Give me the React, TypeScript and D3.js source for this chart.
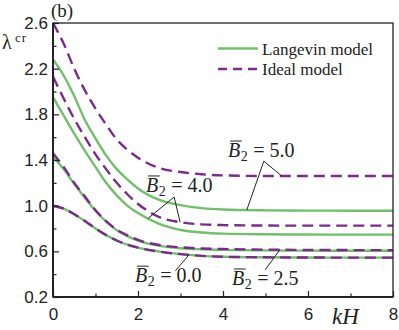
import React, { useEffect, useRef } from "react";
import * as d3 from "d3";

// kH sample points shared by every curve
const KH = [0, 0.25, 0.5, 0.75, 1, 1.25, 1.5, 1.75, 2, 2.5, 3, 3.5, 4, 5, 6, 7, 8];

// Langevin model (solid green)
const LANGEVIN_00 = [1.0, 0.975, 0.925, 0.865, 0.8, 0.742, 0.695, 0.658, 0.632, 0.598, 0.576, 0.56, 0.553, 0.548, 0.546, 0.545, 0.545];
const LANGEVIN_25 = [1.43, 1.32, 1.19, 1.07, 0.955, 0.86, 0.785, 0.733, 0.694, 0.648, 0.627, 0.618, 0.613, 0.608, 0.606, 0.605, 0.605];
const LANGEVIN_40 = [1.95, 1.79, 1.63, 1.48, 1.34, 1.2, 1.09, 1.0, 0.935, 0.84, 0.787, 0.765, 0.755, 0.749, 0.747, 0.746, 0.746];
const LANGEVIN_50 = [2.28, 2.14, 1.96, 1.75, 1.59, 1.44, 1.32, 1.23, 1.15, 1.05, 1.005, 0.978, 0.966, 0.959, 0.957, 0.956, 0.956];

// Ideal model (dashed purple)
const IDEAL_00 = [1.0, 0.975, 0.925, 0.865, 0.8, 0.742, 0.695, 0.658, 0.632, 0.598, 0.576, 0.56, 0.553, 0.548, 0.546, 0.545, 0.545];
const IDEAL_25 = [1.46, 1.34, 1.2, 1.08, 0.96, 0.865, 0.79, 0.74, 0.7, 0.655, 0.635, 0.625, 0.62, 0.615, 0.612, 0.611, 0.61];
const IDEAL_40 = [2.13, 1.94, 1.76, 1.6, 1.45, 1.32, 1.2, 1.1, 1.015, 0.9, 0.855, 0.836, 0.83, 0.826, 0.825, 0.825, 0.825];
const IDEAL_50 = [2.6, 2.42, 2.2, 2.01, 1.85, 1.71, 1.58, 1.49, 1.42, 1.33, 1.295, 1.275, 1.265, 1.26, 1.26, 1.26, 1.26];

const Y_TICKS = [0.2, 0.6, 1.0, 1.4, 1.8, 2.2, 2.6];
const Y_MINOR = [0.4, 0.8, 1.2, 1.6, 2.0, 2.4];
const X_TICKS = [0, 2, 4, 6, 8];
const X_MINOR = [1, 3, 5, 7];

const GREEN = "#70c06b";
const PURPLE = "#7b2a8d";
const SANS = "'Liberation Sans', Arial, sans-serif";
const SERIF = "'Liberation Serif', 'Times New Roman', serif";

const W = 399;
const H = 330;

const App = () => {
    const ref = useRef<SVGSVGElement>(null);

    useEffect(() => {
        const margin = { top: 23, right: 6, bottom: 33, left: 53 };
        const svg = d3.select(ref.current);
        svg.selectAll("*").remove();

        const x = d3.scaleLinear().domain([0, 8]).range([margin.left, W - margin.right]);
        const y = d3.scaleLinear().domain([0.2, 2.6]).range([H - margin.bottom, margin.top]);

        svg.append("clipPath")
            .attr("id", "plot-clip")
            .append("rect")
            .attr("x", margin.left)
            .attr("y", margin.top)
            .attr("width", W - margin.left - margin.right)
            .attr("height", H - margin.top - margin.bottom);

        const line = d3
            .line<number>()
            .x((_, i) => x(KH[i]))
            .y((d) => y(d))
            .curve(d3.curveMonotoneX);

        const plot = svg.append("g").attr("clip-path", "url(#plot-clip)");

        [LANGEVIN_00, LANGEVIN_25, LANGEVIN_40, LANGEVIN_50].forEach((vals) => {
            plot.append("path")
                .attr("d", line(vals))
                .attr("fill", "none")
                .attr("stroke", GREEN)
                .attr("stroke-width", 2.4);
        });
        [IDEAL_00, IDEAL_25, IDEAL_40, IDEAL_50].forEach((vals) => {
            plot.append("path")
                .attr("d", line(vals))
                .attr("fill", "none")
                .attr("stroke", PURPLE)
                .attr("stroke-width", 2.4)
                .attr("stroke-dasharray", "11,6");
        });

        // axes, ticks pointing inward
        const yAxis = svg.append("g")
            .attr("transform", `translate(${margin.left},0)`)
            .call(d3.axisLeft(y).tickValues(Y_TICKS).tickSizeInner(-6).tickSizeOuter(0).tickPadding(5).tickFormat(d3.format(".1f")));
        svg.append("g")
            .attr("transform", `translate(${margin.left},0)`)
            .call(d3.axisLeft(y).tickValues(Y_MINOR).tickSizeInner(-3.5).tickSizeOuter(0).tickFormat(() => ""));
        const xAxis = svg.append("g")
            .attr("transform", `translate(0,${H - margin.bottom})`)
            .call(d3.axisBottom(x).tickValues(X_TICKS).tickSizeInner(-6).tickSizeOuter(0).tickPadding(9).tickFormat(d3.format("d")));
        svg.append("g")
            .attr("transform", `translate(0,${H - margin.bottom})`)
            .call(d3.axisBottom(x).tickValues(X_MINOR).tickSizeInner(-3.5).tickSizeOuter(0).tickFormat(() => ""));

        svg.selectAll(".domain").remove();
        svg.selectAll(".tick line").attr("stroke", "#222").attr("stroke-width", 1.2);
        [yAxis, xAxis].forEach((a) =>
            a.selectAll("text").attr("font-family", SANS).attr("font-size", 17).attr("fill", "#222")
        );
        xAxis.selectAll("text").attr("dy", "0.85em");

        // frame
        svg.append("rect")
            .attr("x", margin.left)
            .attr("y", margin.top)
            .attr("width", W - margin.left - margin.right)
            .attr("height", H - margin.top - margin.bottom)
            .attr("fill", "none")
            .attr("stroke", "#222")
            .attr("stroke-width", 1.3);
        svg.append("line")
            .attr("x1", margin.left).attr("x2", margin.left)
            .attr("y1", margin.top).attr("y2", H - margin.bottom)
            .attr("stroke", "#222").attr("stroke-width", 2);
        svg.append("line")
            .attr("x1", margin.left).attr("x2", W - margin.right)
            .attr("y1", H - margin.bottom).attr("y2", H - margin.bottom)
            .attr("stroke", "#222").attr("stroke-width", 2);

        // axis titles
        svg.append("text")
            .attr("x", 332).attr("y", 324)
            .attr("font-family", SERIF).attr("font-style", "italic").attr("font-size", 23)
            .attr("fill", "#222").text("kH");
        svg.append("text")
            .attr("x", 2).attr("y", 49)
            .attr("font-family", SERIF).attr("font-size", 20)
            .attr("fill", "#222").text("λ");
        svg.append("text")
            .attr("x", 15).attr("y", 42)
            .attr("font-family", SERIF).attr("font-size", 13).attr("letter-spacing", 1)
            .attr("fill", "#222").text("cr");
        svg.append("text")
            .attr("x", 51).attr("y", 17)
            .attr("font-family", SERIF).attr("font-size", 19)
            .attr("fill", "#222").text("(b)");

        // legend
        const legend = svg.append("g").attr("font-family", SERIF).attr("font-size", 17).attr("fill", "#222");
        legend.append("line").attr("x1", 218).attr("x2", 258).attr("y1", 48.5).attr("y2", 48.5)
            .attr("stroke", GREEN).attr("stroke-width", 2.4);
        legend.append("text").attr("x", 262).attr("y", 54.5).text("Langevin model");
        legend.append("line").attr("x1", 218).attr("x2", 258).attr("y1", 69).attr("y2", 69)
            .attr("stroke", PURPLE).attr("stroke-width", 2.4).attr("stroke-dasharray", "9,6");
        legend.append("text").attr("x", 262).attr("y", 75).text("Ideal model");

        // annotations
        const at = (vals: number[], k: number) => y(d3.scaleLinear(KH, vals)(k));
        const ann = svg.append("g").attr("fill", "#222").attr("font-family", SERIF);

        const label = (kx: number, vy: number, value: string) => {
            const px = x(kx);
            const py = y(vy);
            const b = ann.append("text").attr("x", px).attr("y", py)
                .attr("font-size", 20).attr("font-style", "italic").text("B");
            const wB = (b.node() as SVGTextElement).getComputedTextLength();
            ann.append("line")
                .attr("x1", px + 2).attr("x2", px + wB + 1.5)
                .attr("y1", py - 16).attr("y2", py - 16)
                .attr("stroke", "#222").attr("stroke-width", 1);
            const s = ann.append("text").attr("x", px + wB + 0.5).attr("y", py + 4)
                .attr("font-size", 14).text("2");
            const wS = (s.node() as SVGTextElement).getComputedTextLength();
            const e = ann.append("text").attr("x", px + wB + wS + 6).attr("y", py)
                .attr("font-size", 20).text("=");
            const wE = (e.node() as SVGTextElement).getComputedTextLength();
            ann.append("text").attr("x", px + wB + wS + wE + 11).attr("y", py)
                .attr("font-size", 20).text(value);
        };
        const leader = (x1: number, y1: number, x2: number, y2: number) => {
            ann.append("line")
                .attr("x1", x1).attr("y1", y1).attr("x2", x2).attr("y2", y2)
                .attr("stroke", "#222").attr("stroke-width", 1);
        };

        label(4.12, 1.426, "5.0");
        leader(x(4.96), y(1.39), x(4.56), at(LANGEVIN_50, 4.56));
        leader(x(4.96), y(1.39), x(5.38), at(IDEAL_50, 5.38));

        label(2.19, 1.12, "4.0");
        leader(x(2.85), y(1.076), x(2.24), at(LANGEVIN_40, 2.24));
        leader(x(2.85), y(1.076), x(2.99), at(IDEAL_40, 2.99));

        label(1.93, 0.33, "0.0");
        leader(x(2.88), y(0.43), x(3.2), at(IDEAL_00, 3.2));

        label(4.21, 0.305, "2.5");
        leader(x(4.99), y(0.437), x(5.34), at(IDEAL_25, 5.34));
    }, []);

    return (
        <svg
            ref={ref}
            width={W}
            height={H}
            style={{ position: "fixed", left: 0, top: 0, background: "white" }}
        />
    );
};

export default App;
